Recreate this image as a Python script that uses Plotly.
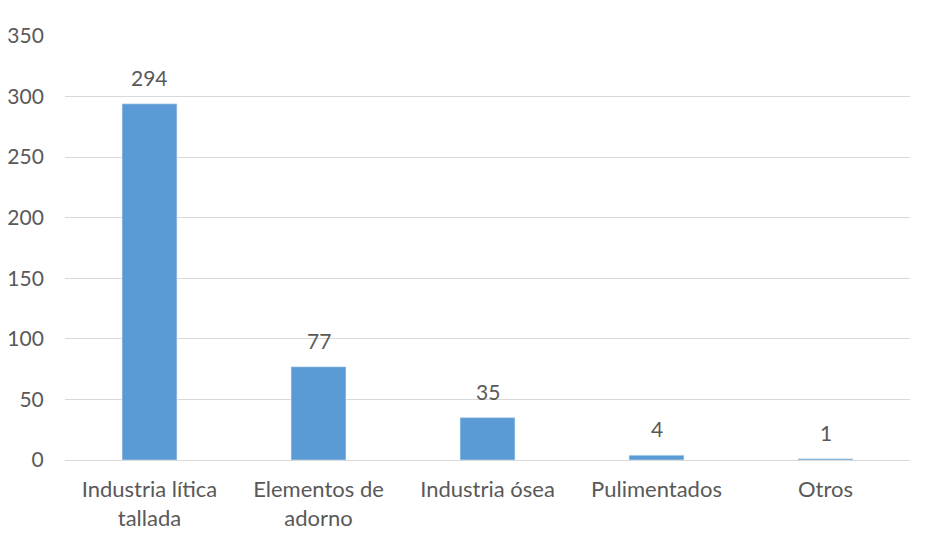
import plotly.graph_objects as go

categories = ["Industria lítica<br>tallada", "Elementos de<br>adorno", "Industria ósea", "Pulimentados", "Otros"]
values = [294, 77, 35, 4, 1]
y_ticks = [0, 50, 100, 150, 200, 250, 300, 350]

FONT = "Lato, Carlito, Calibri, sans-serif"
TXT = "#595959"
FS = 21

fig = go.Figure()
fig.add_trace(go.Bar(x=categories, y=values, marker_color="#5B9BD5", width=0.325,
                     hoverinfo="x+y"))

for c, v in zip(categories, values):
    fig.add_annotation(x=c, y=v, text=str(v), showarrow=False, yanchor="bottom",
                       yshift=12, font=dict(family=FONT, size=FS, color=TXT))

fig.update_layout(
    width=929, height=541,
    margin=dict(l=57, r=27, t=28, b=89, autoexpand=False),
    paper_bgcolor="white", plot_bgcolor="white",
    showlegend=False,
    font=dict(family=FONT, size=FS, color=TXT),
)
fig.update_yaxes(range=[0, 350], tickvals=y_ticks, showgrid=True, gridcolor="#D9D9D9",
                 gridwidth=1, zeroline=False, showline=False, automargin=False,
                 ticks="outside", ticklen=16, tickcolor="rgba(0,0,0,0)",
                 tickfont=dict(family=FONT, size=FS, color=TXT))
fig.update_xaxes(showline=True, linecolor="#D9D9D9", linewidth=1, showgrid=False,
                 automargin=False,
                 ticks="outside", ticklen=10, tickcolor="rgba(0,0,0,0)",
                 tickfont=dict(family=FONT, size=22, color=TXT))

fig.write_html("out.html")
